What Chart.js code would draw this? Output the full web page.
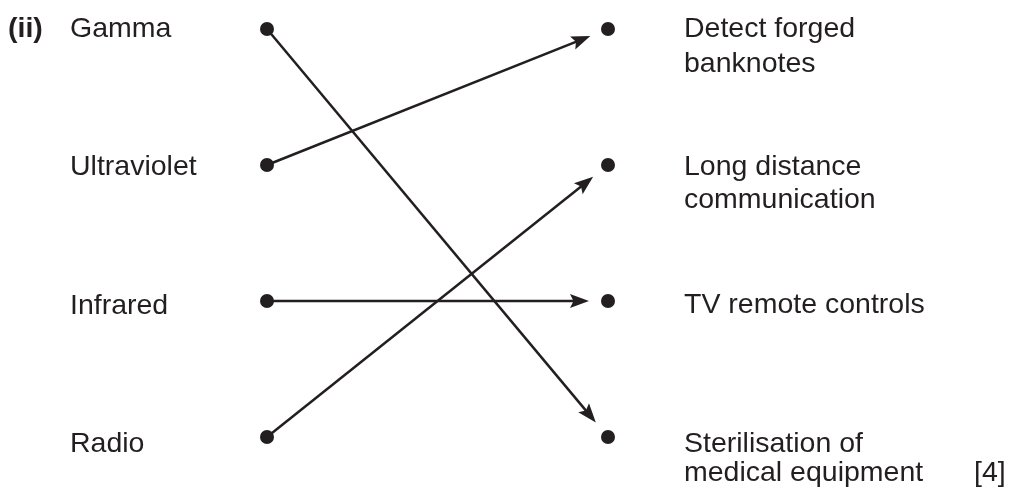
<!DOCTYPE html>
<html>
<head>
<meta charset="utf-8">
<script src="https://cdn.jsdelivr.net/npm/chart.js@4"></script>
<style>
  html, body { margin: 0; padding: 0; background: #ffffff; }
  #wrap { width: 1009px; height: 492px; }
</style>
</head>
<body>
<div id="wrap"><canvas id="c" width="1009" height="492"></canvas></div>
<script>
// ---- data ----
const partLabel = "(ii)";
const sources = ["Gamma", "Ultraviolet", "Infrared", "Radio"];
const uses = [
  ["Detect forged", "banknotes"],
  ["Long distance", "communication"],
  ["TV remote controls"],
  ["Sterilisation of", "medical equipment"]
];
// index into uses for each source
const matches = [3, 0, 2, 1];
const marks = "[4]";

// ---- style ----
const INK = "#231f20";
const FONT = "28.5px 'Liberation Sans', Arial, sans-serif";
const FONT_BOLD = "bold 28.5px 'Liberation Sans', Arial, sans-serif";

const dotPoints = [];
sources.forEach((s, i) => dotPoints.push({ x: 0, y: i }));
uses.forEach((u, j) => dotPoints.push({ x: 1, y: j }));

const matchPlugin = {
  id: 'matchPlugin',
  afterDatasetsDraw(chart) {
    const ctx = chart.ctx;
    const xs = chart.scales.x, ys = chart.scales.y;
    ctx.save();
    // arrows
    ctx.strokeStyle = INK;
    ctx.fillStyle = INK;
    ctx.lineWidth = 2.5;
    const headLen = 19, headHalf = 7, gap = 19;
    matches.forEach((j, i) => {
      const x0 = xs.getPixelForValue(0), y0 = ys.getPixelForValue(i);
      const x1 = xs.getPixelForValue(1), y1 = ys.getPixelForValue(j);
      const dx = x1 - x0, dy = y1 - y0;
      const len = Math.hypot(dx, dy);
      const ux = dx / len, uy = dy / len;
      const tx = x1 - ux * gap, ty = y1 - uy * gap;
      const bx = tx - ux * headLen, by = ty - uy * headLen;
      ctx.beginPath();
      ctx.moveTo(x0, y0);
      ctx.lineTo(bx + ux * 4, by + uy * 4);
      ctx.stroke();
      ctx.beginPath();
      ctx.moveTo(tx, ty);
      ctx.lineTo(bx - uy * headHalf, by + ux * headHalf);
      ctx.lineTo(bx + ux * 3.5, by + uy * 3.5);
      ctx.lineTo(bx + uy * headHalf, by - ux * headHalf);
      ctx.closePath();
      ctx.fill();
    });
    // text
    ctx.fillStyle = INK;
    ctx.textBaseline = 'alphabetic';
    ctx.textAlign = 'left';
    const leftTextX = xs.getPixelForValue(0) - 197;
    const rightTextX = xs.getPixelForValue(1) + 76;
    ctx.font = FONT_BOLD;
    ctx.fillText(partLabel, leftTextX - 62, ys.getPixelForValue(0) + 8);
    ctx.font = FONT;
    sources.forEach((s, i) => {
      ctx.fillText(s, leftTextX, ys.getPixelForValue(i) + 8 + 2.4 * i);
    });
    uses.forEach((lines, j) => {
      const base = ys.getPixelForValue(j) + 7.5 + 2.4 * j;
      const lh = 35 - 2 * j;
      lines.forEach((ln, k) => ctx.fillText(ln, rightTextX, base + k * lh));
    });
    const lastRow = uses.length - 1;
    const lastBase = ys.getPixelForValue(lastRow) + 7.5 + 2.4 * lastRow + (35 - 2 * lastRow);
    ctx.fillText(marks, rightTextX + 290, lastBase);
    ctx.restore();
  }
};

new Chart(document.getElementById('c'), {
  type: 'scatter',
  data: {
    datasets: [{
      data: dotPoints,
      pointRadius: 7,
      pointHoverRadius: 7,
      pointBackgroundColor: INK,
      pointBorderColor: INK,
      pointBorderWidth: 0,
      showLine: false,
      clip: false
    }]
  },
  options: {
    responsive: false,
    animation: false,
    devicePixelRatio: 1,
    layout: { padding: 0, autoPadding: false },
    plugins: { legend: { display: false }, tooltip: { enabled: false } },
    events: [],
    scales: {
      x: { type: 'linear', display: false, min: -267 / 341, max: -267 / 341 + 1009 / 341 },
      y: { type: 'linear', display: false, reverse: true, min: -29 / 136, max: -29 / 136 + 492 / 136 }
    }
  },
  plugins: [matchPlugin]
});
</script>
</body>
</html>
